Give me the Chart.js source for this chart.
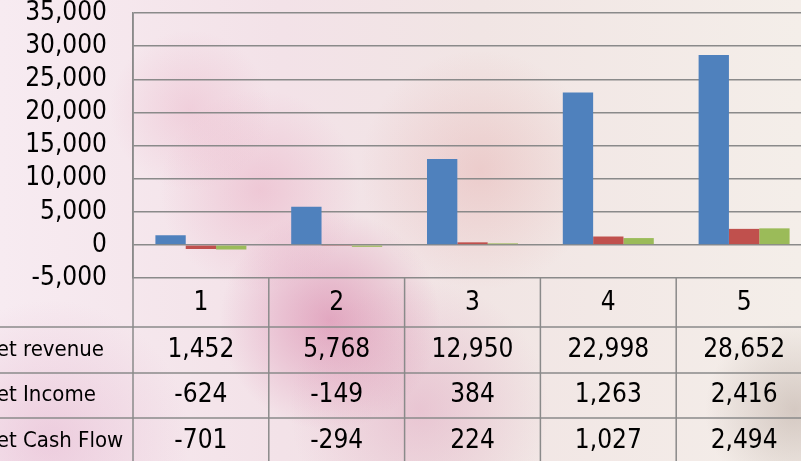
<!DOCTYPE html>
<html>
<head>
<meta charset="utf-8">
<script src="https://cdn.jsdelivr.net/npm/chart.js@4/dist/chart.umd.min.js"></script>
<style>
  html, body { margin: 0; padding: 0; width: 801px; height: 461px; overflow: hidden; }
  body {
    background:
      radial-gradient(circle at 330px 320px, rgba(205, 95, 145, 0.45), rgba(205, 95, 145, 0) 110px),
      radial-gradient(circle at 190px 110px, rgba(228, 150, 178, 0.28), rgba(228, 150, 178, 0) 80px),
      radial-gradient(circle at 260px 190px, rgba(228, 150, 178, 0.35), rgba(228, 150, 178, 0) 100px),
      radial-gradient(circle at 480px 170px, rgba(222, 140, 140, 0.28), rgba(222, 140, 140, 0) 120px),
      radial-gradient(circle at 420px 410px, rgba(215, 140, 175, 0.35), rgba(215, 140, 175, 0) 130px),
      radial-gradient(circle at 50px 440px, rgba(225, 170, 200, 0.45), rgba(225, 170, 200, 0) 140px),
      radial-gradient(circle at 795px 410px, rgba(165, 145, 135, 0.40), rgba(165, 145, 135, 0) 90px),
      linear-gradient(90deg, #f7ebf1 0%, #f3e2e8 35%, #f1e5e4 60%, #f4eee9 100%);
  }
  #wrap { position: relative; width: 812px; height: 461px; }
  canvas { display: block; }
</style>
</head>
<body>
<div id="wrap"><canvas id="chart" width="812" height="461"></canvas></div>
<script>
/* global Chart */

const years = ['1', '2', '3', '4', '5']
const rowNames = ['Net revenue', 'Net Income', 'Net Cash Flow']
const netRevenue = [1452, 5768, 12950, 22998, 28652]
const netIncome = [-624, -149, 384, 1263, 2416]
const netCashFlow = [-701, -294, 224, 1027, 2494]
const yMin = -5000
const yMax = 35000
const yStep = 5000

const FONT = '"DejaVu Sans Condensed", "DejaVu Sans", sans-serif'
const LINE = '#8a8a8a'

const fmt = v => v.toLocaleString('en-US')

// table under the plot, lined up with the x scale
const dataTable = {
  id: 'dataTable',
  afterDraw (chart) {
    const { ctx, chartArea, scales } = chart
    const x = scales.x
    const bottom = chartArea.bottom
    const rows = [bottom + 49, bottom + 95, bottom + 140, bottom + 186]
    const catW = (chartArea.right - chartArea.left) / years.length
    const series = [netRevenue, netIncome, netCashFlow]

    ctx.save()
    ctx.strokeStyle = LINE
    ctx.lineWidth = 1.5
    ctx.beginPath()
    for (let r = 0; r < 3; r++) {
      ctx.moveTo(0, rows[r])
      ctx.lineTo(chart.width, rows[r])
    }
    for (let i = 0; i <= years.length; i++) {
      const px = chartArea.left + i * catW
      ctx.moveTo(px, i === 0 ? chartArea.top : bottom)
      ctx.lineTo(px, chart.height)
    }
    ctx.stroke()

    ctx.fillStyle = '#000'
    ctx.textBaseline = 'middle'
    for (let r = 0; r < 3; r++) {
      const cy = (rows[r] + rows[r + 1]) / 2
      ctx.textAlign = 'left'
      ctx.font = '22px ' + FONT
      ctx.fillText(rowNames[r], -18, cy)
      ctx.textAlign = 'center'
      ctx.font = '26px ' + FONT
      series[r].forEach((v, i) => {
        ctx.fillText(fmt(v), x.getPixelForValue(i), cy)
      })
    }
    ctx.restore()
  }
}

const ctx = document.getElementById('chart').getContext('2d')
new Chart(ctx, {
  type: 'bar',
  data: {
    labels: years,
    datasets: [
      { label: rowNames[0], data: netRevenue, backgroundColor: '#4f81bd' },
      { label: rowNames[1], data: netIncome, backgroundColor: '#c0504d' },
      { label: rowNames[2], data: netCashFlow, backgroundColor: '#9bbb59' }
    ]
  },
  options: {
    responsive: false,
    animation: false,
    devicePixelRatio: 1,
    layout: { padding: { top: 13, left: 0, right: 0, bottom: 0 } },
    datasets: { bar: { categoryPercentage: 0.67, barPercentage: 1.0, borderWidth: 0 } },
    plugins: { legend: { display: false }, tooltip: { enabled: false } },
    scales: {
      x: {
        grid: { display: false, drawTicks: false },
        border: { display: false },
        ticks: { color: '#000', padding: 12, maxRotation: 0, font: { family: FONT, size: 26, lineHeight: 1 } },
        afterFit (scale) { scale.height = 183 }
      },
      y: {
        min: yMin,
        max: yMax,
        // invisible tick marks give the gap between labels and axis
        grid: { color: LINE, lineWidth: 1.5, drawTicks: true, tickLength: 26, tickColor: 'rgba(0,0,0,0)' },
        border: { display: true, color: LINE, width: 1.5 },
        ticks: {
          stepSize: yStep,
          color: '#000',
          padding: 0,
          font: { family: FONT, size: 26, lineHeight: 1 },
          callback: v => fmt(v)
        },
        afterFit (scale) { scale.width = 133 }
      }
    }
  },
  plugins: [dataTable]
})
</script>
</body>
</html>
